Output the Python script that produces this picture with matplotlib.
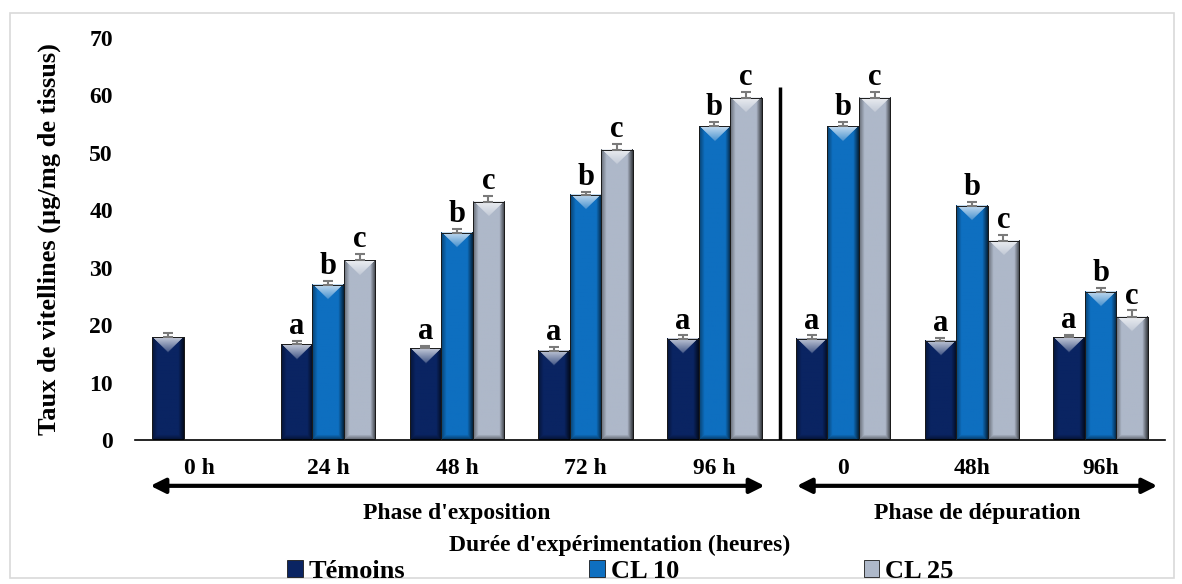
import numpy as np
import matplotlib
matplotlib.use('Agg')
from matplotlib import pyplot as plt
from matplotlib.patches import Rectangle
from matplotlib.colors import to_rgb

plt.rcParams['font.family'] = ['Liberation Serif', 'DejaVu Serif']
plt.rcParams['font.weight'] = 'bold'

# donnees
categories = ['0 h', '24 h', '48 h', '72 h', '96 h', '0', '48h', '96h']
temoins = [17.9, 16.7, 16.0, 15.5, 17.6, 17.6, 17.3, 17.9]
cl10 = [np.nan, 27.0, 36.1, 42.7, 54.6, 54.6, 40.8, 25.8]
cl25 = [np.nan, 31.3, 41.5, 50.5, 59.6, 59.6, 34.7, 21.5]
err_temoins = [0.8, 0.6, 0.45, 0.7, 0.6, 0.6, 0.4, 0.4]
err_cl10 = [np.nan, 0.65, 0.6, 0.5, 0.7, 0.7, 0.7, 0.7]
err_cl25 = [np.nan, 1.05, 1.0, 1.0, 0.95, 0.95, 1.0, 1.05]
lettres_temoins = ['', 'a', 'a', 'a', 'a', 'a', 'a', 'a']
lettres_cl10 = ['', 'b', 'b', 'b', 'b', 'b', 'b', 'b']
lettres_cl25 = ['', 'c', 'c', 'c', 'c', 'c', 'c', 'c']
series = ['Témoins', 'CL 10', 'CL 25']
couleurs = ['#0a2462', '#0e6fc0', '#aeb8c9']

W, H = 1182, 584
fig = plt.figure(figsize=(W / 100, H / 100), dpi=100)
ax = fig.add_axes([135 / W, 1 - 440 / H, 1030 / W, 402 / H])

x = np.arange(len(categories))
larg = 0.245
px_par_unite = 402 / 70


def biseau(rgb, nx, ny):
    # petit effet "biseau" comme dans Excel
    rgb = np.array(to_rgb(rgb))
    jj, ii = np.meshgrid(np.arange(nx), np.arange(ny))
    dl = jj
    dr = nx - 1 - jj
    dt = ii
    db = ny - 1 - ii
    img = np.ones((ny, nx, 3)) * rgb
    s = 5.0
    gauche = (dl < s) & (dl <= dt)
    droite = (dr < s) & (dr <= dt)
    bas = (db < s) & (db < dl) & (db < dr)
    haut = (dt < np.minimum(dl, dr)) & (dt < nx / 2)
    f = (1 - dl / s)[..., None]
    img = np.where(gauche[..., None], rgb * (1 - 0.4 * f), img)
    f = (1 - dr / s)[..., None]
    img = np.where(droite[..., None], rgb * (1 - 0.65 * f), img)
    f = (1 - db / s)[..., None]
    img = np.where(bas[..., None], rgb * (1 - 0.45 * f), img)
    f = (1 - dt / (nx / 2))[..., None]
    clair = rgb + (1 - rgb) * (0.2 + 0.55 * f)
    img = np.where(haut[..., None], clair, img)
    return np.clip(img, 0, 1)


valeurs = [temoins, cl10, cl25]
erreurs = [err_temoins, err_cl10, err_cl25]
lettres = [lettres_temoins, lettres_cl10, lettres_cl25]

for k in range(3):
    pos = x + (k - 1) * larg
    v = np.array(valeurs[k], dtype=float)
    e = np.array(erreurs[k], dtype=float)
    bars = ax.bar(pos, v, larg, color=couleurs[k], label=series[k], zorder=2,
                  edgecolor='#1a1a1a', linewidth=0.6)
    for b in bars:
        h = b.get_height()
        if not np.isfinite(h) or h <= 0:
            continue
        ny = max(int(h * px_par_unite), 2)
        img = biseau(couleurs[k], 31, ny)
        ax.imshow(img, extent=(b.get_x(), b.get_x() + b.get_width(), 0, h),
                  aspect='auto', zorder=2.5, interpolation='bilinear')
    ax.bar(pos, v, larg, fill=False, edgecolor='#1a1a1a', linewidth=0.7, zorder=3)
    ax.errorbar(pos, v, yerr=[np.zeros_like(e), e], fmt='none', ecolor='#7a7a7a',
                elinewidth=1.5, capsize=3.5, capthick=1.5, zorder=4)
    for xi, vi, ei, lt in zip(pos, v, e, lettres[k]):
        if lt:
            ax.annotate(lt, (xi, vi + ei), xytext=(0, 5), textcoords='offset points',
                        ha='center', va='baseline', fontsize=22, fontweight='bold')

ax.set_xlim(-0.5, 7.5)
ax.set_ylim(0, 70)
ax.set_yticks(range(0, 71, 10))
ax.set_xticks(x)
ax.set_xticklabels(categories)
ax.tick_params(axis='both', length=0, labelsize=17)
ax.tick_params(axis='x', pad=13)
ax.tick_params(axis='y', pad=16)
for sp in ['top', 'right', 'left']:
    ax.spines[sp].set_visible(False)
ax.spines['bottom'].set_linewidth(1.2)
ax.set_ylabel('Taux de vitellines (µg/mg de tissus)', fontsize=19, fontweight='bold')
ax.yaxis.set_label_coords(-0.072, 0.5)

# separation exposition / depuration
ax.vlines(4.51, 0, 61.5, color='black', linewidth=2.5, zorder=5)

# fleches des phases
tr = ax.get_xaxis_transform()
fl = dict(arrowstyle='<|-|>', lw=3, color='black', mutation_scale=22, shrinkA=0, shrinkB=0)
ax.annotate('', xy=(4.39, -0.114), xytext=(-0.38, -0.114), xycoords=tr,
            arrowprops=fl, annotation_clip=False)
ax.annotate('', xy=(7.44, -0.114), xytext=(4.64, -0.114), xycoords=tr,
            arrowprops=fl, annotation_clip=False)
ax.text(2.0, -0.182, "Phase d'exposition", transform=tr, ha='center', va='center',
        fontsize=17, fontweight='bold')
ax.text(6.04, -0.182, 'Phase de dépuration', transform=tr, ha='center', va='center',
        fontsize=17, fontweight='bold')

fig.text(620 / W, 1 - 545 / H, "Durée d'expérimentation (heures)", ha='center', va='center',
         fontsize=17, fontweight='bold')

fig.legend(loc='center', bbox_to_anchor=(620 / W, 1 - 571 / H), ncol=3, frameon=False,
           fontsize=19, handlelength=0.6, handleheight=0.6, handletextpad=0.2,
           columnspacing=7.0, borderpad=0, borderaxespad=0)

# cadre gris autour du graphique
fig.patches.append(Rectangle((10 / W, 6 / H), 1 - 18 / W, 1 - 19 / H, transform=fig.transFigure,
                             fill=False, edgecolor='#d9d9d9', linewidth=1.2))

fig.savefig('out.png', dpi=100)
